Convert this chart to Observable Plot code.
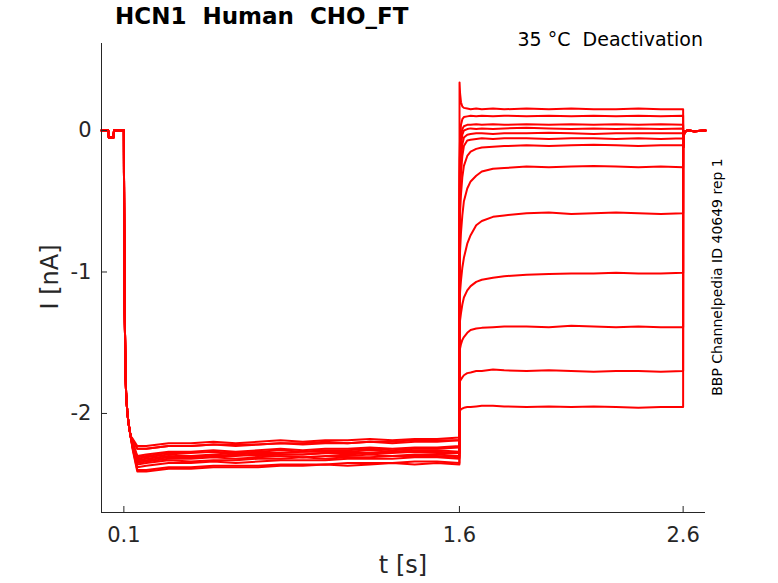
<!DOCTYPE html>
<html>
<head>
<meta charset="utf-8">
<script src="https://cdn.jsdelivr.net/npm/d3@7"></script>
<script src="https://cdn.jsdelivr.net/npm/@observablehq/plot@0.6"></script>
<style>
  html, body { margin: 0; padding: 0; background: #ffffff; }
  #wrap { position: relative; width: 778px; height: 583px; font-family: "DejaVu Sans", sans-serif; }
  .txt { position: absolute; white-space: pre; color: #000; line-height: 1; }
</style>
</head>
<body>
<div id="wrap"></div>
<script>
// ---- axes / labels ----
const titleText = "HCN1  Human  CHO_FT";
const subText = "35 °C  Deactivation";
const sideText = "BBP Channelpedia ID 40649 rep 1";
const xLabel = "t [s]";
const yLabel = "I [nA]";
const xDomain = [0, 2.7];
const yDomain = [-2.70, 0.615];
const xTicks = [0.1, 1.6, 2.6];
const xTickLabels = ["0.1", "1.6", "2.6"];
const yTicks = [-2, -1, 0];
const yTickLabels = ["-2", "-1", "0"];

// ---- shared segments (time in s, current in nA) ----
const tBase = [0, 0.03, 0.033, 0.053, 0.056, 0.1];
const iBase = [0.0, 0.0, -0.05, -0.05, 0.0, 0.0];
const tDrop = [0.1005, 0.102, 0.104, 0.107, 0.11, 0.115, 0.12, 0.13];
const iDrop = [-0.3, -0.8, -1.3, -1.68, -1.86, -1.98, -2.06, -2.16];
const tHold = [0.14, 0.16, 0.2, 0.3, 0.4, 0.5, 0.6, 0.7, 0.8, 0.9, 1.0, 1.1, 1.2, 1.3, 1.4, 1.5, 1.6];
const tTail = [1.6005, 1.603, 1.607, 1.613, 1.62, 1.635, 1.65, 1.675, 1.7, 1.75, 1.8, 1.9, 2.0, 2.1, 2.2, 2.3, 2.4, 2.5, 2.6];
const tPost = [2.6005, 2.602, 2.606, 2.62, 2.65, 2.7];
const iPost = [-0.12, -0.05, -0.01, 0.0, -0.005, 0.0];

// ---- per-sweep hold currents ----
const hold1  = [-2.22, -2.33, -2.32, -2.30, -2.31, -2.30, -2.29, -2.30, -2.29, -2.29, -2.28, -2.29, -2.28, -2.28, -2.27, -2.28, -2.28];
const hold2  = [-2.19, -2.25, -2.25, -2.23, -2.23, -2.22, -2.23, -2.22, -2.21, -2.22, -2.21, -2.21, -2.20, -2.21, -2.20, -2.20, -2.19];
const hold3  = [-2.24, -2.36, -2.35, -2.33, -2.34, -2.33, -2.33, -2.32, -2.32, -2.31, -2.32, -2.31, -2.31, -2.30, -2.30, -2.30, -2.31];
const hold4  = [-2.21, -2.31, -2.30, -2.28, -2.28, -2.27, -2.28, -2.27, -2.26, -2.27, -2.26, -2.26, -2.25, -2.26, -2.25, -2.25, -2.24];
const hold5  = [-2.25, -2.40, -2.40, -2.38, -2.38, -2.37, -2.37, -2.37, -2.36, -2.36, -2.36, -2.35, -2.35, -2.35, -2.34, -2.34, -2.35];
const hold6  = [-2.18, -2.23, -2.23, -2.21, -2.21, -2.20, -2.21, -2.20, -2.19, -2.20, -2.19, -2.19, -2.18, -2.19, -2.18, -2.18, -2.17];
const hold7  = [-2.23, -2.34, -2.33, -2.31, -2.31, -2.30, -2.30, -2.29, -2.29, -2.29, -2.28, -2.28, -2.28, -2.27, -2.27, -2.27, -2.28];
const hold8  = [-2.21, -2.30, -2.29, -2.27, -2.27, -2.26, -2.27, -2.26, -2.25, -2.26, -2.25, -2.25, -2.24, -2.25, -2.24, -2.24, -2.23];
const hold9  = [-2.25, -2.38, -2.37, -2.35, -2.35, -2.34, -2.35, -2.34, -2.33, -2.33, -2.33, -2.32, -2.32, -2.32, -2.31, -2.31, -2.32];
const hold10 = [-2.22, -2.32, -2.31, -2.29, -2.30, -2.29, -2.28, -2.28, -2.28, -2.27, -2.27, -2.27, -2.26, -2.27, -2.26, -2.26, -2.27];
const hold11 = [-2.26, -2.41, -2.41, -2.39, -2.39, -2.38, -2.38, -2.38, -2.37, -2.37, -2.36, -2.37, -2.36, -2.35, -2.36, -2.35, -2.36];
const hold12 = [-2.19, -2.25, -2.25, -2.23, -2.23, -2.22, -2.22, -2.22, -2.21, -2.21, -2.20, -2.21, -2.20, -2.20, -2.19, -2.19, -2.19];
const hold13 = [-2.24, -2.35, -2.34, -2.32, -2.32, -2.31, -2.32, -2.31, -2.30, -2.31, -2.30, -2.30, -2.29, -2.30, -2.29, -2.29, -2.30];

// ---- per-sweep tail currents ----
const tail1  = [0.34, 0.26, 0.20, 0.17, 0.16, 0.155, 0.15, 0.155, 0.15, 0.155, 0.15, 0.155, 0.15, 0.155, 0.15, 0.15, 0.155, 0.15, 0.15];
const tail2  = [-0.2, -0.05, 0.04, 0.08, 0.095, 0.1, 0.105, 0.1, 0.105, 0.1, 0.105, 0.1, 0.105, 0.1, 0.105, 0.1, 0.105, 0.1, 0.105];
const tail3  = [-0.3, -0.15, -0.04, 0.01, 0.03, 0.04, 0.04, 0.045, 0.04, 0.045, 0.04, 0.045, 0.04, 0.045, 0.04, 0.045, 0.04, 0.045, 0.04];
const tail4  = [-0.4, -0.25, -0.11, -0.03, 0.0, 0.01, 0.015, 0.01, 0.015, 0.01, 0.015, 0.02, 0.015, 0.01, 0.015, 0.01, 0.015, 0.01, 0.015];
const tail5  = [-0.5, -0.35, -0.2, -0.1, -0.05, -0.03, -0.025, -0.02, -0.02, -0.025, -0.02, -0.02, -0.015, -0.02, -0.025, -0.02, -0.02, -0.02, -0.02];
const tail6  = [-0.6, -0.45, -0.3, -0.18, -0.11, -0.07, -0.065, -0.06, -0.055, -0.06, -0.055, -0.055, -0.06, -0.055, -0.055, -0.06, -0.055, -0.06, -0.055];
const tail7  = [-0.7, -0.58, -0.45, -0.33, -0.25, -0.18, -0.15, -0.13, -0.12, -0.115, -0.11, -0.105, -0.11, -0.105, -0.1, -0.105, -0.11, -0.105, -0.105];
const tail8  = [-0.95, -0.85, -0.72, -0.6, -0.5, -0.41, -0.36, -0.32, -0.29, -0.27, -0.265, -0.255, -0.26, -0.255, -0.25, -0.255, -0.26, -0.255, -0.26];
const tail9  = [-1.22, -1.14, -1.06, -0.97, -0.9, -0.8, -0.74, -0.67, -0.64, -0.61, -0.60, -0.585, -0.58, -0.59, -0.585, -0.58, -0.585, -0.59, -0.585];
const tail10 = [-1.38, -1.34, -1.29, -1.23, -1.18, -1.13, -1.10, -1.07, -1.055, -1.04, -1.03, -1.02, -1.015, -1.01, -1.01, -1.005, -1.01, -1.01, -1.005];
const tail11 = [-1.56, -1.54, -1.51, -1.48, -1.46, -1.43, -1.41, -1.40, -1.395, -1.39, -1.385, -1.385, -1.39, -1.38, -1.385, -1.39, -1.385, -1.39, -1.39];
const tail12 = [-1.78, -1.77, -1.76, -1.745, -1.73, -1.715, -1.71, -1.70, -1.70, -1.69, -1.695, -1.70, -1.695, -1.70, -1.705, -1.70, -1.70, -1.705, -1.70];
const tail13 = [-1.99, -1.98, -1.97, -1.965, -1.96, -1.955, -1.955, -1.95, -1.945, -1.945, -1.95, -1.955, -1.95, -1.955, -1.95, -1.955, -1.96, -1.955, -1.955];

const holds = [hold1, hold2, hold3, hold4, hold5, hold6, hold7, hold8, hold9, hold10, hold11, hold12, hold13];
const tails = [tail1, tail2, tail3, tail4, tail5, tail6, tail7, tail8, tail9, tail10, tail11, tail12, tail13];

const rows = [];
holds.forEach((hold, k) => {
  const push = (ts, is) => ts.forEach((t, j) => rows.push({sweep: k, t, I: is[j]}));
  push(tBase, iBase);
  push(tDrop, iDrop);
  push(tHold, hold);
  push(tTail, tails[k]);
  push(tPost, iPost);
});

const axisColor = "#262626";
const plot = Plot.plot({
  width: 778,
  height: 583,
  marginLeft: 101,
  marginRight: 73,
  marginTop: 43,
  marginBottom: 71,
  style: {background: "transparent", fontFamily: "DejaVu Sans, sans-serif", color: axisColor},
  x: {domain: xDomain},
  y: {domain: yDomain},
  marks: [
    Plot.line(rows, {x: "t", y: "I", z: "sweep", stroke: "#ff0000", strokeWidth: 2}),
    Plot.ruleX([xDomain[0]], {stroke: axisColor, strokeWidth: 1}),
    Plot.ruleY([yDomain[0]], {stroke: axisColor, strokeWidth: 1}),
    Plot.axisX({ticks: xTicks, tickFormat: (d, i) => xTickLabels[i], tickSize: -6, tickPadding: 21, fontSize: 21, stroke: axisColor, fill: axisColor, label: null}),
    Plot.axisY({ticks: yTicks, tickFormat: (d, i) => yTickLabels[i], tickSize: -6, tickPadding: 16, fontSize: 21, stroke: axisColor, fill: axisColor, label: null})
  ]
});

const wrap = document.getElementById("wrap");
wrap.appendChild(plot);

function addText(text, css) {
  const d = document.createElement("div");
  d.className = "txt";
  d.textContent = text;
  Object.assign(d.style, css);
  wrap.appendChild(d);
  return d;
}
addText(titleText, {left: "115px", top: "5px", fontSize: "23px", fontWeight: "bold"});
addText(subText, {right: "75px", top: "30px", fontSize: "19px"});
addText(xLabel, {left: "403px", top: "553px", fontSize: "24px", color: axisColor, transform: "translateX(-50%)"});
addText(yLabel, {left: "50px", top: "277px", fontSize: "24px", color: axisColor, transform: "translate(-50%,-50%) rotate(-90deg)"});
addText(sideText, {left: "717px", top: "277px", fontSize: "14px", transform: "translate(-50%,-50%) rotate(-90deg)"});
</script>
</body>
</html>
